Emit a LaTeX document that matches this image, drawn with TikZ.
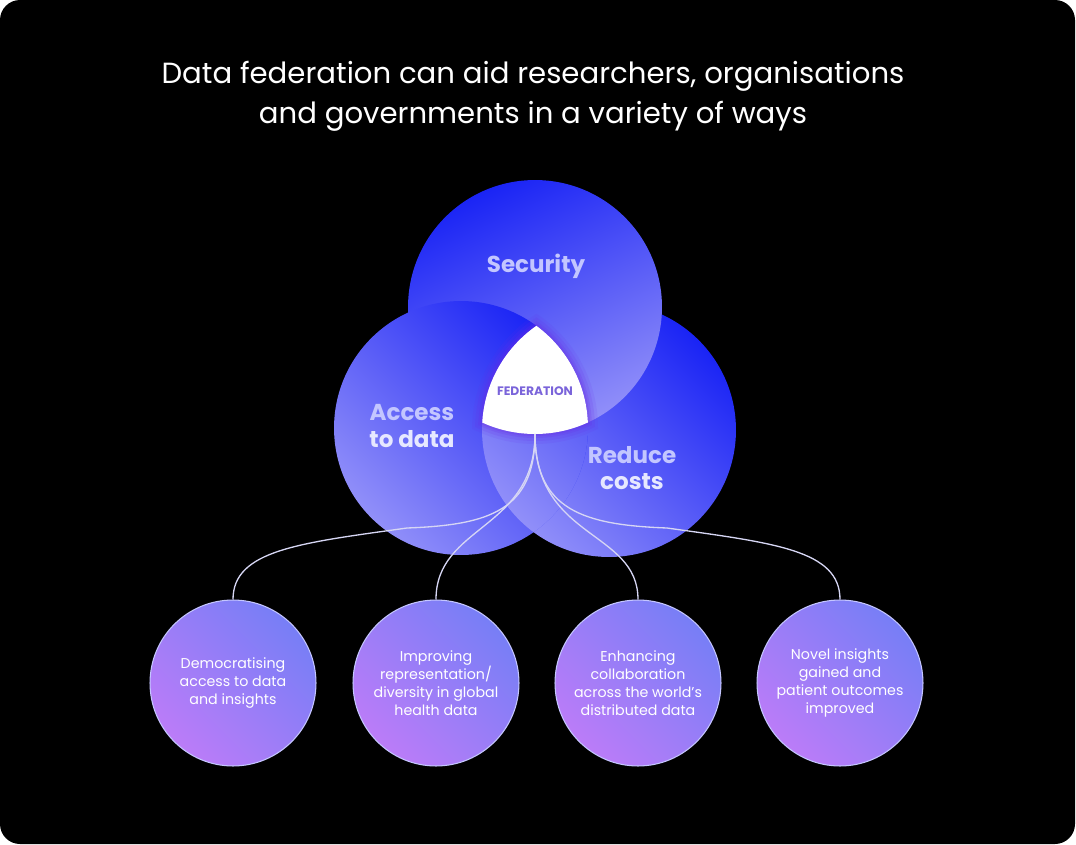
\documentclass[tikz,border=0pt]{standalone}
\usepackage{fontspec}
\setmainfont{Poppins}
\usepackage{tikz}
\usepackage{xcolor}
\usetikzlibrary{positioning}
\definecolor{ink}{HTML}{000000}
\definecolor{bluetop}{HTML}{1A24F5}
\definecolor{bluebot}{HTML}{918FF9}
\definecolor{gaintop}{HTML}{777EF6}
\definecolor{gainbot}{HTML}{BB7CF8}
\definecolor{gainrim}{HTML}{C4C6FF}
\definecolor{labellow}{HTML}{C3C6FF}
\definecolor{labelhi}{HTML}{E6E8FF}
\definecolor{fedink}{HTML}{7A64DA}
\definecolor{fedglow}{HTML}{6A2BE6}
\definecolor{linkgray}{HTML}{D6D6F4}
\tikzset{
  bigshade/.style={top color=bluetop, bottom color=bluebot, shading angle=-45},
  secshade/.style={top color=bluetop, bottom color=bluebot, shading angle=25},
  bigdisc/.style={circle, inner sep=0pt, minimum size=5.08cm, bigshade},
  disclabel/.style={
    align=center, text=labellow, inner sep=0pt,
    font=\fontsize{13.1}{14.9}\selectfont\bfseries
  },
  fedtext/.style={text=fedink, inner sep=0pt, font=\fontsize{7}{8}\selectfont\bfseries},
  gaindisc/.style={
    circle, inner sep=0pt, minimum size=3.32cm,
    draw=gainrim, line width=0.6pt,
    top color=gaintop, bottom color=gainbot, shading angle=-45,
    text=white, align=center, font=\fontsize{8.1}{10.2}\selectfont
  },
  titletext/.style={text=white, align=center, inner sep=0pt, font=\fontsize{16.6}{22.9}\selectfont},
  linkline/.style={draw=linkgray, line width=0.75pt}
}

\begin{document}
\begin{tikzpicture}[x=0.02cm,y=-0.02cm]
\useasboundingbox (0,0) rectangle (1076,845);
\fill[white] (0,0) rectangle (1076,845);
\fill[ink, rounded corners=0.4cm] (0,0) rectangle (1075,844);

\node[titletext] (title) at (533,96) {Data federation can aid researchers, organisations\\and governments in a variety of ways};

\node[bigdisc] (red) at (609,430) {};
\node[bigdisc, secshade] (sec) at (535,307) {};
\node[bigdisc] (acc) at (461,428) {};
\begin{scope}
  \clip (acc.center) circle[radius=2.54cm];
  \shade[bigshade] (red.center) circle[radius=2.54cm];
\end{scope}

\foreach \k/\o in {10/0.10,7/0.14,4/0.18,2/0.22}{
  \begin{scope}
    \clip (sec.center) circle[radius={(127+\k)*0.02cm}];
    \clip (acc.center) circle[radius={(127+\k)*0.02cm}];
    \fill[fedglow, opacity=\o] (red.center) circle[radius={(127+\k)*0.02cm}];
  \end{scope}
}
\begin{scope}
  \clip (sec.center) circle[radius=2.54cm];
  \clip (acc.center) circle[radius=2.54cm];
  \fill[white] (red.center) circle[radius=2.54cm];
\end{scope}
\node[fedtext] (fed) at (535,391) {FEDERATION};
\coordinate (fedtip) at (535,434);

\node[disclabel] (seclabel) at (536,266) {Security};
\node[disclabel] (acclabel) at (412,426) {Access\\\textcolor{labelhi}{to data}};
\node[disclabel] (redlabel) at (632,468) {Reduce\\\textcolor{labelhi}{costs}};

\node[gaindisc] (dem) at (233,683) {Democratising\\access to data\\and insights};
\node[gaindisc] (rep) at (436,683) {Improving\\representation/\\diversity in global\\health data};
\node[gaindisc] (col) at (638,683) {Enhancing\\collaboration\\across the world’s\\distributed data};
\node[gaindisc] (nov) at (840,683) {Novel insights\\gained and\\patient outcomes\\improved};

\draw[linkline] (fedtip) .. controls (535,510) and (490,525) .. (407,528)
  .. controls (300,543) and (233,550) .. (dem.north);
\draw[linkline] (fedtip) .. controls (535,530) and (436,525) .. (rep.north);
\draw[linkline] (fedtip) .. controls (535,540) and (638,530) .. (col.north);
\draw[linkline] (fedtip) .. controls (535,510) and (584,525) .. (667,528)
  .. controls (774,543) and (840,550) .. (nov.north);
\end{tikzpicture}
\end{document}
